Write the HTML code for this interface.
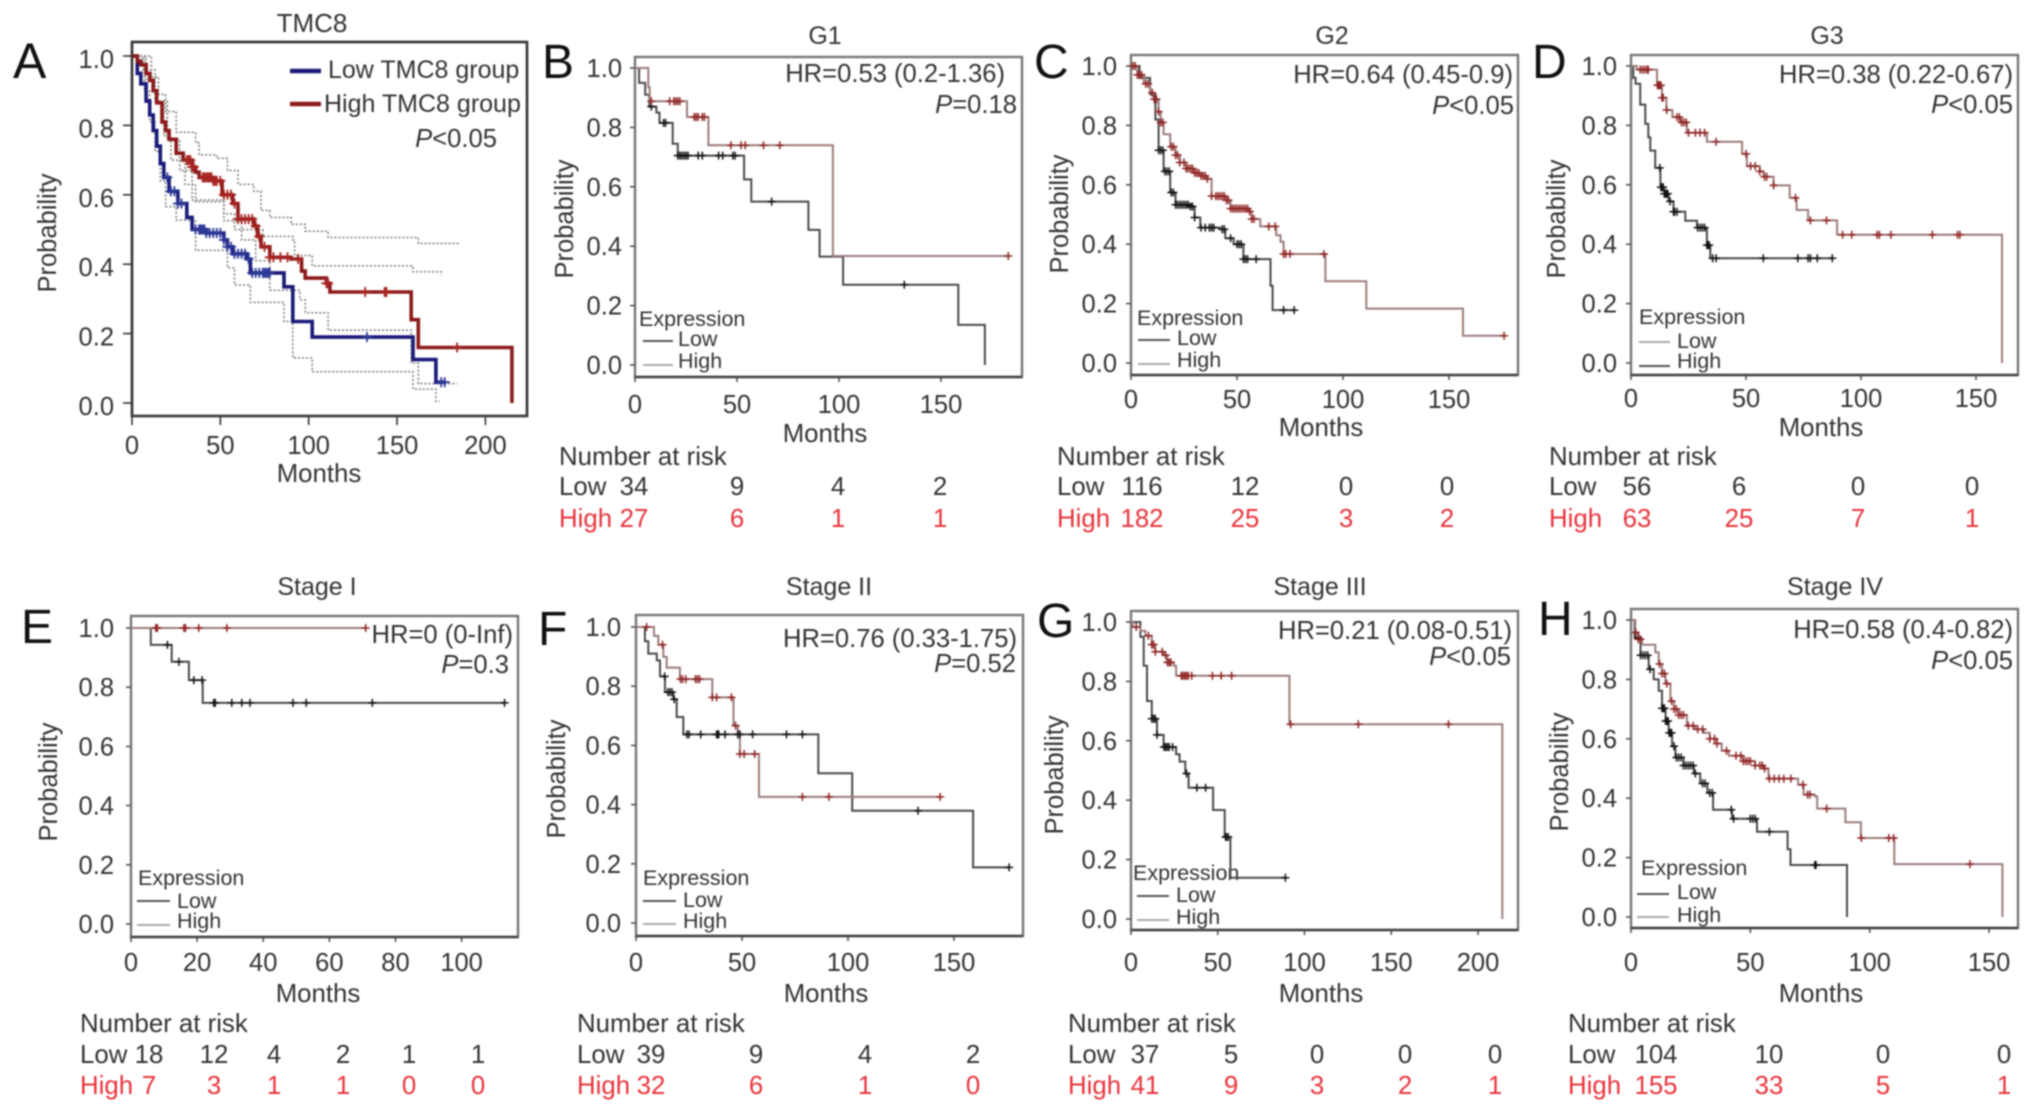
<!DOCTYPE html>
<html lang="en">
<head>
<meta charset="utf-8">
<title>TMC8 survival analysis</title>
<style>
html,body{margin:0;padding:0;background:#fff;}
svg{display:block;filter:blur(0.8px);}
text{font-family:"Liberation Sans",sans-serif;fill:#333;}
.tick{font-size:25.5px;}
.ax{font-size:25.8px;text-anchor:middle;}
.yl{font-size:25.5px;text-anchor:middle;}
.tt{font-size:25px;text-anchor:middle;}
.hr{font-size:25.6px;text-anchor:end;}
.lg{font-size:21.5px;}
.ltr{font-size:48px;fill:#111;}
.nr{font-size:25.8px;}
.nrh{font-size:25.8px;fill:#e8333c;}
.frame{fill:none;stroke:#777;stroke-width:2.4;}
.ll{stroke:#555;stroke-width:2;}
.hl{stroke:#aaa;stroke-width:2;}
</style>
</head>
<body>
<svg id="chart" xmlns="http://www.w3.org/2000/svg" width="2032" height="1113" viewBox="0 0 2032 1113">
<rect width="2032" height="1113" fill="#fff"/>

<g id="panel-a">
<text class="ltr" x="13" y="78" style="font-size:50px">A</text>
<text class="tt" x="312" y="32" style="font-size:26px">TMC8</text>
<rect class="frame" x="132" y="42" width="395" height="374" style="stroke:#333;stroke-width:2.6"/>
<text class="ax" x="319" y="482">Months</text>
<text class="yl" transform="translate(56,233) rotate(-90)">Probability</text>
<line x1="290" y1="71" x2="321" y2="71" stroke="#1a1a78" stroke-width="4.5"/>
<line x1="290" y1="104" x2="321" y2="104" stroke="#8c1a1a" stroke-width="4.5"/>
<text x="328" y="78" style="font-size:25px">Low TMC8 group</text>
<text x="324" y="112" style="font-size:25px">High TMC8 group</text>
<text class="hr" x="497" y="147"><tspan font-style="italic">P</tspan>&lt;0.05</text>
</g>

<g id="panel-b">
<text class="ltr" x="542" y="78">B</text>
<text class="tt" x="825" y="44">G1</text>
<rect class="frame" x="635" y="57" width="387" height="320"/>
<text class="ax" x="825" y="442">Months</text>
<text class="yl" transform="translate(573,219) rotate(-90)">Probability</text>
<text class="hr" x="1005" y="82">HR=0.53 (0.2-1.36)</text>
<text class="hr" x="1017" y="113"><tspan font-style="italic">P</tspan>=0.18</text>
<text class="lg" x="639" y="326">Expression</text>
<line class="ll" x1="643" y1="341" x2="673" y2="341"/>
<text class="lg" x="678" y="346">Low</text>
<line class="hl" x1="643" y1="365" x2="673" y2="365"/>
<text class="lg" x="678" y="368">High</text>
<text class="nr" x="559" y="465">Number at risk</text>
<text class="nr" x="559" y="495">Low</text>
<text class="nrh" x="559" y="527">High</text>
</g>

<g id="panel-c">
<text class="ltr" x="1034" y="78">C</text>
<text class="tt" x="1332" y="44">G2</text>
<rect class="frame" x="1131" y="55" width="387" height="320"/>
<text class="ax" x="1321" y="436">Months</text>
<text class="yl" transform="translate(1068,214) rotate(-90)">Probability</text>
<text class="hr" x="1513" y="83">HR=0.64 (0.45-0.9)</text>
<text class="hr" x="1514" y="114"><tspan font-style="italic">P</tspan>&lt;0.05</text>
<text class="lg" x="1137" y="325">Expression</text>
<line class="ll" x1="1138" y1="340" x2="1170" y2="340"/>
<text class="lg" x="1177" y="345">Low</text>
<line class="hl" x1="1138" y1="364" x2="1170" y2="364"/>
<text class="lg" x="1177" y="367">High</text>
<text class="nr" x="1057" y="465">Number at risk</text>
<text class="nr" x="1057" y="495">Low</text>
<text class="nrh" x="1057" y="527">High</text>
</g>

<g id="panel-d">
<text class="ltr" x="1532" y="78">D</text>
<text class="tt" x="1827" y="44">G3</text>
<rect class="frame" x="1631" y="55" width="387" height="320"/>
<text class="ax" x="1821" y="436">Months</text>
<text class="yl" transform="translate(1565,219) rotate(-90)">Probability</text>
<text class="hr" x="2013" y="83">HR=0.38 (0.22-0.67)</text>
<text class="hr" x="2013" y="113"><tspan font-style="italic">P</tspan>&lt;0.05</text>
<text class="lg" x="1639" y="324">Expression</text>
<line class="hl" x1="1639" y1="342" x2="1670" y2="342"/>
<text class="lg" x="1677" y="348">Low</text>
<line class="ll" x1="1639" y1="366" x2="1670" y2="366"/>
<text class="lg" x="1677" y="368">High</text>
<text class="nr" x="1549" y="465">Number at risk</text>
<text class="nr" x="1549" y="495">Low</text>
<text class="nrh" x="1549" y="527">High</text>
</g>

<g id="panel-e">
<text class="ltr" x="21" y="643">E</text>
<text class="tt" x="317" y="595">Stage I</text>
<rect class="frame" x="131" y="616" width="387" height="321"/>
<text class="ax" x="318" y="1002">Months</text>
<text class="yl" transform="translate(57,782) rotate(-90)">Probability</text>
<text class="hr" x="513" y="643">HR=0 (0-Inf)</text>
<text class="hr" x="509" y="673"><tspan font-style="italic">P</tspan>=0.3</text>
<text class="lg" x="138" y="885">Expression</text>
<line class="ll" x1="137" y1="901" x2="170" y2="901"/>
<text class="lg" x="177" y="908">Low</text>
<line class="hl" x1="137" y1="925" x2="170" y2="925"/>
<text class="lg" x="177" y="928">High</text>
<text class="nr" x="80" y="1032">Number at risk</text>
<text class="nr" x="80" y="1063">Low</text>
<text class="nrh" x="80" y="1094">High</text>
</g>

<g id="panel-f">
<text class="ltr" x="538" y="645">F</text>
<text class="tt" x="829" y="595">Stage II</text>
<rect class="frame" x="636" y="615" width="387" height="321"/>
<text class="ax" x="826" y="1002">Months</text>
<text class="yl" transform="translate(565,779) rotate(-90)">Probability</text>
<text class="hr" x="1017" y="647">HR=0.76 (0.33-1.75)</text>
<text class="hr" x="1016" y="672"><tspan font-style="italic">P</tspan>=0.52</text>
<text class="lg" x="643" y="885">Expression</text>
<line class="ll" x1="643" y1="901" x2="676" y2="901"/>
<text class="lg" x="683" y="907">Low</text>
<line class="hl" x1="643" y1="924" x2="676" y2="924"/>
<text class="lg" x="683" y="928">High</text>
<text class="nr" x="577" y="1032">Number at risk</text>
<text class="nr" x="577" y="1063">Low</text>
<text class="nrh" x="577" y="1094">High</text>
</g>

<g id="panel-g">
<text class="ltr" x="1037" y="637">G</text>
<text class="tt" x="1320" y="595">Stage III</text>
<rect class="frame" x="1131" y="611" width="387" height="319"/>
<text class="ax" x="1321" y="1002">Months</text>
<text class="yl" transform="translate(1063,775) rotate(-90)">Probability</text>
<text class="hr" x="1512" y="639">HR=0.21 (0.08-0.51)</text>
<text class="hr" x="1511" y="665"><tspan font-style="italic">P</tspan>&lt;0.05</text>
<text class="lg" x="1133" y="880">Expression</text>
<line class="ll" x1="1137" y1="896" x2="1169" y2="896"/>
<text class="lg" x="1176" y="902">Low</text>
<line class="hl" x1="1137" y1="920" x2="1169" y2="920"/>
<text class="lg" x="1176" y="924">High</text>
<text class="nr" x="1068" y="1032">Number at risk</text>
<text class="nr" x="1068" y="1063">Low</text>
<text class="nrh" x="1068" y="1094">High</text>
</g>

<g id="panel-h">
<text class="ltr" x="1538" y="635">H</text>
<text class="tt" x="1835" y="595">Stage IV</text>
<rect class="frame" x="1631" y="609" width="387" height="319"/>
<text class="ax" x="1821" y="1002">Months</text>
<text class="yl" transform="translate(1568,772) rotate(-90)">Probability</text>
<text class="hr" x="2013" y="638">HR=0.58 (0.4-0.82)</text>
<text class="hr" x="2013" y="669"><tspan font-style="italic">P</tspan>&lt;0.05</text>
<text class="lg" x="1641" y="875">Expression</text>
<line class="ll" x1="1637" y1="894" x2="1669" y2="894"/>
<text class="lg" x="1677" y="899">Low</text>
<line class="hl" x1="1637" y1="917" x2="1669" y2="917"/>
<text class="lg" x="1677" y="922">High</text>
<text class="nr" x="1568" y="1032">Number at risk</text>
<text class="nr" x="1568" y="1063">Low</text>
<text class="nrh" x="1568" y="1094">High</text>
</g>
</svg>

<script>
// ---- shared tick values ----
const probTicks = [0, 0.2, 0.4, 0.6, 0.8, 1];
const probTickLabels = ['0.0', '0.2', '0.4', '0.6', '0.8', '1.0'];
const monthTicks200 = [0, 50, 100, 150, 200];
const monthTicks150 = [0, 50, 100, 150];
const monthTicks100 = [0, 20, 40, 60, 80, 100];

// ---- series: [month, survival probability after the step] ----
const aHigh = [[0,1],[3,.985],[5,.975],[8,.95],[10,.93],[12,.9],[14,.865],[17,.81],[19,.785],[21,.76],[25,.72],[29,.70],[34,.68],[36,.665],[38,.65],[46,.64],[51,.60],[57,.575],[60,.53],[69,.51],[71,.48],[73,.45],[78,.42],[90,.415],[96,.38],[98,.36],[110,.345],[112,.32],[158,.24],[162,.16],[215,0]];
const aLow = [[0,1],[3,.95],[5,.92],[8,.87],[10,.83],[12,.785],[14,.74],[16,.69],[18,.65],[21,.61],[26,.575],[31,.535],[34,.50],[42,.49],[52,.47],[54,.45],[57,.43],[65,.415],[67,.375],[86,.335],[91,.235],[102,.19],[159,.125],[172,.06],[177,.06]];
const aHighUpper = [[0,1],[11,.94],[15,.89],[19,.84],[25,.78],[36,.75],[38,.715],[48,.705],[54,.67],[60,.63],[69,.61],[73,.555],[78,.535],[90,.515],[98,.495],[111,.477],[162,.46],[185,.46]];
const aHighLower = [[0,1],[8,.93],[13,.87],[18,.77],[22,.70],[30,.63],[36,.58],[52,.525],[62,.47],[70,.41],[78,.325],[95,.297],[98,.26],[111,.21],[158,.115],[162,.056],[184,.056]];
const aLowUpper = [[0,1],[6,.96],[13,.87],[20,.76],[27,.67],[34,.585],[52,.545],[58,.50],[74,.48],[91,.47],[92,.425],[102,.395],[159,.378],[175,.368]];
const aLowLower = [[0,1],[7,.90],[10,.81],[13,.725],[16,.64],[19,.566],[25,.527],[36,.44],[54,.39],[58,.34],[66,.335],[67,.29],[86,.235],[91,.13],[102,.09],[159,.04],[172,.005],[174,.005]];
const aHighCensors = [31,32,33,34,35,40,41,42,43,44,45,46,47,48,50,52,54,56,58,60,62,64,66,68,70,72,75,78,80,84,88,94,110,111,132,143,144,184];
const aLowCensors = [20,22,24,26,28,36,38,39,40,41,42,44,46,48,50,52,54,56,58,60,62,64,66,68,70,72,74,75,76,77,78,133,175,177];

const bLow = [[0,1],[2,.95],[5,.91],[7,.87],[10.5,.85],[12,.815],[18.5,.745],[21,.705],[53.5,.625],[57,.55],[85,.455],[90.5,.365],[102,.27],[158.5,.135],[171.5,0]];
const bHigh = [[0,1],[6.5,.935],[7.2,.888],[25.5,.835],[36,.74],[97,.367],[183,.367]];
const bLowCensors = [8,14,15,21,22,23,24,25,26,31,33,41,43,48,49,67,132];
const bHighCensors = [8,17,19,20,21,22,29,30,31,33,34,47,52,54,63,71,183];
const bRiskLow = ['34', '9', '4', '2'];
const bRiskHigh = ['27', '6', '1', '1'];

const cLow = [[0,1],[4,.96],[9,.905],[11.5,.82],[13,.716],[15.4,.645],[18.5,.574],[21,.533],[27.3,.527],[30,.49],[32.7,.456],[42,.45],[44.5,.42],[48.4,.40],[53,.35],[65.8,.26],[66.8,.178],[77,.178]];
const cHigh = [[0,1],[3,.97],[6,.94],[9,.91],[10.7,.888],[13,.846],[14,.81],[15.4,.77],[18.5,.728],[21,.70],[23,.675],[26,.655],[29.5,.64],[33,.63],[36,.62],[38,.562],[45,.548],[47,.52],[55.5,.51],[57,.485],[61,.46],[68.5,.43],[70.5,.408],[72,.367],[91.7,.275],[111,.183],[156.6,.092],[176,.092]];
const cLowCensors = [13,14,15,16,17,18,19,20,21,22,23,24,25,26,27,28,29,30,33,35,37,38,39,43,44,47,50,51,52,53,54,55,59,72,77];
const cHighCensors = [1,2,3,4,5,7,8,10,11,12,13,14,15,19,20,21,22,23,25,26,27,28,29,30,31,32,33,34,35,36,38,40,41,42,43,44,45,46,47,48,49,50,51,52,53,54,55,56,57,58,65,68,72,73,75,91,176];
const cRiskLow = ['116', '12', '0', '0'];
const cRiskHigh = ['182', '25', '3', '2'];

const dLow = [[0,1],[1,.96],[2,.94],[4,.87],[6.2,.805],[7.5,.76],[8.4,.715],[10.5,.657],[12.8,.592],[14.5,.57],[16.4,.544],[18.5,.509],[23.6,.479],[28.7,.456],[32.3,.45],[33,.397],[34.5,.353],[88,.353]];
const dHigh = [[0,1],[2.5,.988],[11.3,.935],[13.5,.893],[15.4,.852],[18,.828],[21.5,.81],[24.3,.775],[33,.745],[48.3,.704],[50.4,.663],[56,.645],[57.7,.627],[62,.598],[69,.556],[72,.515],[77,.48],[89.6,.432],[161.3,0]];
const dLowCensors = [12.5,13,13.5,14,14.5,15,15.5,16,17,18.5,19,20,29,30,31,32,33,33.5,34,35.5,37,57.5,72.5,77,78,81,87.5];
const dHighCensors = [4,5,6,7,7.5,11.5,12,12.5,13,13.5,14,15.5,20,21,22,23,24,25,28,30,32,37,50,52,54,56,58,59,62,71.5,78,85,92,96,107,108,113,131,142,143];
const dRiskLow = ['56', '6', '0', '0'];
const dRiskHigh = ['63', '25', '7', '1'];

const eLow = [[0,1],[6,.943],[12.3,.886],[17.5,.824],[21.7,.747],[113,.747]];
const eHigh = [[0,1],[71,1]];
const eLowCensors = [11,14.5,19,21.5,25,25.5,30.5,33.5,36,49,53,73,113];
const eHighCensors = [7.5,8,16,16.5,20.5,29,71];
const eRiskLow = ['18', '12', '4', '2', '1', '1'];
const eRiskHigh = ['7', '3', '1', '1', '0', '0'];

const fLow = [[0,1],[4.2,.952],[5.8,.91],[9.8,.887],[11.3,.833],[13.7,.78],[17.6,.756],[19.2,.696],[22.3,.637],[86,.506],[102,.379],[159,.188],[176,.188]];
const fHigh = [[0,1],[8.5,.97],[10.5,.94],[12.9,.899],[14.5,.863],[20.7,.824],[36,.762],[46,.667],[48,.643],[49,.571],[58,.426],[143.5,.426]];
const fLowCensors = [13.5,15,16,17,18,24,25,30.5,38,38.5,39,42,48,49,55,71,78.5,133,176];
const fHighCensors = [5,12.5,21,22,23.5,28,29,30,36,38,45,47,49,51,56,78.5,91,143.5];
const fRiskLow = ['39', '9', '4', '2'];
const fRiskHigh = ['32', '6', '1', '0'];

const gLow = [[0,1],[5.4,.95],[7.3,.853],[9.2,.734],[12,.674],[15,.62],[18.8,.579],[26,.555],[28,.53],[31.3,.49],[33.2,.442],[47.3,.367],[54,.276],[57.3,.139],[89,.139]];
const gHigh = [[0,1],[1,.983],[5.4,.97],[8.3,.954],[12,.924],[14,.90],[18.8,.888],[20.8,.864],[24.6,.853],[26,.819],[91.3,.656],[214,0]];
const gLowCensors = [12,13,14,15,19,20,21,22,24,32,38,43,54.5,55,56,89];
const gHighCensors = [3,10,12,13,14,18,20,21,22,23,29,30,31,32,33,35,47,52,58,92,131,183];
const gRiskLow = ['37', '5', '0', '0', '0'];
const gRiskHigh = ['41', '9', '3', '2', '1'];

const hLow = [[0,1],[1.5,.94],[4,.881],[7.4,.834],[9.5,.80],[11.6,.762],[13,.703],[14.5,.66],[15.8,.62],[17.2,.575],[18.6,.537],[22,.51],[26.3,.483],[29,.45],[32,.418],[34.4,.361],[42.3,.331],[52.8,.287],[65.6,.228],[66.8,.175],[90.5,0]];
const hHigh = [[0,1],[1.8,.958],[3,.935],[4.6,.917],[10.2,.891],[11.6,.852],[13,.82],[14.4,.786],[16.5,.727],[18,.70],[20,.68],[23.4,.644],[27,.632],[30.4,.62],[33,.60],[36,.584],[38,.56],[41,.543],[47,.525],[52,.51],[55.5,.50],[57.6,.466],[70,.445],[72.3,.412],[77,.406],[78,.365],[89.8,.319],[96.3,.266],[110.3,.178],[155.6,0]];
const hLowCensors = [3,4,5,6,7,8,13,13.5,14,14.5,15,15.5,16,16.5,17,18,19,20,21,22,23,24,25,26,27,30,31,33,34,42,43,50,51,52,58,77,77.5];
const hHighCensors = [2,3,4,12,13,14,15,17,18,19,20,21,22,24,26,28,30,33,35,36,40,44,46,47,48,49,50,52,54,55,56,58,60,62,64,67,72,74,75,82,96.5,108,110,142];
const hRiskLow = ['104', '10', '0', '0'];
const hRiskHigh = ['155', '33', '5', '1'];

// ---- panel layout (axis geometry only) ----
const SVGNS = 'http://www.w3.org/2000/svg';
const LOW = {line:'#4a4a4a', mark:'#111'};
const HIGH = {line:'#9c7c7c', mark:'#8f2222'};

const panels = [
  {id:'a', left:132, k:1.767, width:395, y1:56, y0:403, bottom:416, xt:monthTicks200, yr:114, ylDy:12, xb:454, tc:'#333',
   low:aLow, high:aHigh, lc:aLowCensors, hc:aHighCensors, lowStyle:{line:'#1a1a78', mark:'#2c3a98'}, highStyle:{line:'#8c1a1a', mark:'#a82420'}, w:3.6},
  {id:'b', left:635, k:2.04, width:387, y1:68, y0:365, bottom:377, xt:monthTicks150, yr:622, ylDy:9, xb:413, tc:'#555',
   low:bLow, high:bHigh, lc:bLowCensors, hc:bHighCensors, lowStyle:LOW, highStyle:HIGH, w:2,
   rl:bRiskLow, rh:bRiskHigh, rx:[634,737,838,940], rb:[495,527]},
  {id:'c', left:1131, k:2.12, width:387, y1:66, y0:363, bottom:375, xt:monthTicks150, yr:1117, ylDy:9, xb:408, tc:'#555',
   low:cLow, high:cHigh, lc:cLowCensors, hc:cHighCensors, lowStyle:LOW, highStyle:HIGH, w:2,
   rl:cRiskLow, rh:cRiskHigh, rx:[1142,1245,1346,1447], rb:[495,527]},
  {id:'d', left:1631, k:2.30, width:387, y1:66, y0:363, bottom:375, xt:monthTicks150, yr:1617, ylDy:9, xb:407, tc:'#555',
   low:dLow, high:dHigh, lc:dLowCensors, hc:dHighCensors, lowStyle:LOW, highStyle:HIGH, w:2,
   rl:dRiskLow, rh:dRiskHigh, rx:[1637,1739,1858,1972], rb:[495,527]},
  {id:'e', left:131, k:3.306, width:387, y1:628, y0:924, bottom:937, xt:monthTicks100, yr:114, ylDy:9, xb:971, tc:'#555',
   low:eLow, high:eHigh, lc:eLowCensors, hc:eHighCensors, lowStyle:LOW, highStyle:HIGH, w:2,
   rl:eRiskLow, rh:eRiskHigh, rx:[149,214,274,343,409,478], rb:[1063,1094]},
  {id:'f', left:636, k:2.12, width:387, y1:627, y0:923, bottom:936, xt:monthTicks150, yr:621, ylDy:9, xb:971, tc:'#555',
   low:fLow, high:fHigh, lc:fLowCensors, hc:fHighCensors, lowStyle:LOW, highStyle:HIGH, w:2,
   rl:fRiskLow, rh:fRiskHigh, rx:[651,756,865,973], rb:[1063,1094]},
  {id:'g', left:1131, k:1.735, width:387, y1:622, y0:919, bottom:930, xt:monthTicks200, yr:1117, ylDy:9, xb:971, tc:'#555',
   low:gLow, high:gHigh, lc:gLowCensors, hc:gHighCensors, lowStyle:LOW, highStyle:HIGH, w:2,
   rl:gRiskLow, rh:gRiskHigh, rx:[1145,1231,1317,1405,1495], rb:[1063,1094]},
  {id:'h', left:1631, k:2.387, width:387, y1:620, y0:917, bottom:928, xt:monthTicks150, yr:1617, ylDy:9, xb:971, tc:'#555',
   low:hLow, high:hHigh, lc:hLowCensors, hc:hHighCensors, lowStyle:LOW, highStyle:HIGH, w:2,
   rl:hRiskLow, rh:hRiskHigh, rx:[1656,1769,1883,2004], rb:[1063,1094]}
];

function mk(parent, tag, attrs) {
  const el = document.createElementNS(SVGNS, tag);
  for (const key in attrs) el.setAttribute(key, attrs[key]);
  parent.appendChild(el);
  return el;
}

function stepPath(steps, xs, ys) {
  let d = 'M' + xs(steps[0][0]).toFixed(1) + ' ' + ys(steps[0][1]).toFixed(1);
  for (let i = 1; i < steps.length; i++) {
    d += 'H' + xs(steps[i][0]).toFixed(1) + 'V' + ys(steps[i][1]).toFixed(1);
  }
  return d;
}

function survivalAt(steps, t) {
  let p = steps[0][1];
  for (let i = 0; i < steps.length; i++) {
    if (steps[i][0] <= t) p = steps[i][1];
  }
  return p;
}

function drawCurve(g, steps, xs, ys, style, width) {
  const el = mk(g, 'path', {d: stepPath(steps, xs, ys), fill: 'none', stroke: style.line, 'stroke-width': width});
  
  
}

function drawCensors(g, times, steps, xs, ys, style, size, width) {
  times.forEach(function (t) {
    const px = xs(t), py = ys(survivalAt(steps, t));
    const el = mk(g, 'path', {
      d: 'M' + px.toFixed(1) + ' ' + (py - size).toFixed(1) + 'V' + (py + size).toFixed(1) +
         'M' + (px - size).toFixed(1) + ' ' + py.toFixed(1) + 'H' + (px + size).toFixed(1),
      stroke: style.mark, 'stroke-width': width, fill: 'none'
    });
    
    
  });
}

function drawAxes(g, p, xs, ys) {
  const tickLen = p.id === 'a' ? 9 : 5;
  p.xt.forEach(function (t) {
    const tick = mk(g, 'line', {x1: xs(t), x2: xs(t), y1: p.bottom, y2: p.bottom + tickLen, stroke: p.tc, 'stroke-width': 1.6});
    
    
    const label = mk(g, 'text', {x: xs(t), y: p.xb, 'text-anchor': 'middle', 'class': 'tick'});
    
    
    label.textContent = String(t);
  });
  probTicks.forEach(function (v, i) {
    const tick = mk(g, 'line', {x1: p.left - tickLen, x2: p.left, y1: ys(v), y2: ys(v), stroke: p.tc, 'stroke-width': 1.6});
    
    
    const label = mk(g, 'text', {x: p.yr, y: ys(v) + p.ylDy, 'text-anchor': 'end', 'class': 'tick'});
    
    
    label.textContent = probTickLabels[i];
  });
  const axis = mk(g, 'line', {x1: p.left, x2: p.left + p.width, y1: p.bottom, y2: p.bottom, stroke: '#444', 'stroke-width': 2.6});
  
  
}

function drawRisk(g, p) {
  if (!p.rl) return;
  p.rl.forEach(function (v, i) {
    const el = mk(g, 'text', {x: p.rx[i], y: p.rb[0], 'text-anchor': 'middle', 'class': 'nr'});
    
    
    el.textContent = v;
  });
  p.rh.forEach(function (v, i) {
    const el = mk(g, 'text', {x: p.rx[i], y: p.rb[1], 'text-anchor': 'middle', 'class': 'nrh'});
    
    
    el.textContent = v;
  });
}

panels.forEach(function (p) {
  const g = document.getElementById('panel-' + p.id);
  const xs = function (t) { return p.left + t * p.k; };
  const ys = function (v) { return p.y0 - v * (p.y0 - p.y1); };
  drawAxes(g, p, xs, ys);
  if (p.id === 'a') {
    [aHighUpper, aHighLower, aLowUpper, aLowLower].forEach(function (band) {
      const el = mk(g, 'path', {d: stepPath(band, xs, ys), fill: 'none', stroke: '#777', 'stroke-width': 1.5, 'stroke-dasharray': '2 2'});
      
      
    });
  }
  drawCurve(g, p.low, xs, ys, p.lowStyle, p.w);
  drawCurve(g, p.high, xs, ys, p.highStyle, p.w);
  drawCensors(g, p.lc, p.low, xs, ys, p.lowStyle, p.id === 'a' ? 5 : 4, p.id === 'a' ? 1.8 : 1.5);
  drawCensors(g, p.hc, p.high, xs, ys, p.highStyle, p.id === 'a' ? 5 : 4, p.id === 'a' ? 1.8 : 1.5);
  drawRisk(g, p);
});
</script>
</body>
</html>
